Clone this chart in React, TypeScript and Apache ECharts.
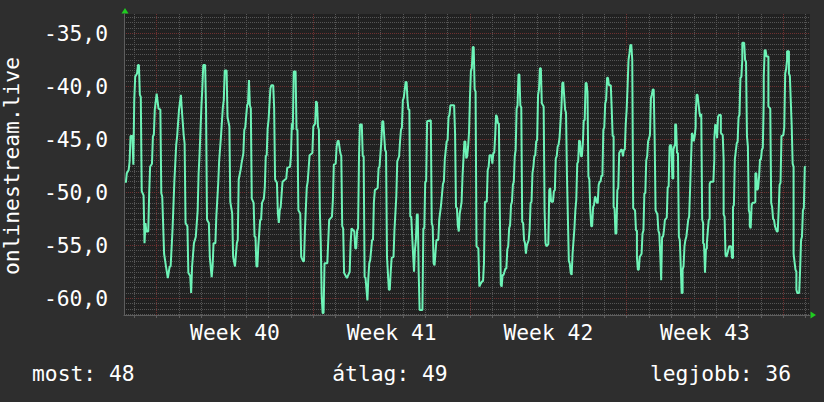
import React, { useEffect, useRef } from "react";
import * as echarts from "echarts";

// samples: [hours since Monday 00:00 of week 40, value]
const week39: [number, number][] = [
  [-33,-49.1],[-32,-48.2],[-30,-47.9],[-29,-47.1],[-28,-44.7],[-26,-44.7],[-25,-47.4],[-24,-41.3],[-23,-39.1],[-21,-38.8],[-20,-38.0],[-19,-38.0],[-18,-40.8],[-17,-41.0],[-16,-49.9],[-14,-50.3],[-13,-54.8],[-12,-52.9],[-11,-53.7],[-9,-53.7],[-8,-50.1],[-7,-47.6],[-5,-47.3],[-4,-44.7],[-3,-44.6],[-2,-42.2],
];
const week40: [number, number][] = [
  [0,-40.7],[2,-42.1],[4,-42.2],[5,-50.1],[6,-50.4],[8,-55.8],[10,-57.0],[12,-58.1],[14,-57.0],[15,-57.0],[17,-53.6],[19,-49.0],[21,-45.5],[22,-44.7],[24,-42.2],[26,-40.8],[27,-42.2],[29,-44.6],[30,-45.4],[31,-52.9],[33,-53.2],[34,-57.6],[36,-57.9],[37,-59.5],[38,-57.0],[40,-54.8],[42,-54.2],[44,-51.7],[45,-48.2],[46,-46.5],[48,-41.9],[49,-40.2],[50,-38.0],[52,-38.0],[53,-42.2],[54,-52.6],[56,-52.9],[57,-56.1],[59,-58.0],[60,-57.0],[61,-54.8],[63,-54.8],[64,-52.3],[66,-49.2],[67,-47.1],[69,-44.7],[71,-42.0],[72,-41.3],[73,-38.5],[75,-38.5],[76,-42.9],[78,-43.8],[79,-50.9],[81,-52.0],[82,-56.1],[84,-57.0],[86,-54.8],[87,-54.5],[88,-48.8],[90,-47.9],[91,-47.3],[93,-46.3],[94,-44.1],[95,-43.9],[97,-41.8],[98,-41.6],[99,-39.4],[100,-41.8],[101,-42.1],[102,-50.6],[104,-51.0],[105,-54.2],[106,-54.2],[107,-57.0],[108,-57.0],[109,-55.1],[111,-52.6],[112,-52.6],[113,-51.0],[115,-50.6],[116,-49.5],[117,-46.6],[118,-46.5],[119,-44.0],[120,-43.2],[122,-40.2],[123,-39.9],[125,-39.9],[126,-42.0],[127,-48.8],[129,-49.1],[130,-52.0],[131,-52.9],[132,-51.7],[133,-51.4],[135,-49.0],[139,-48.7],[140,-47.7],[143,-47.6],[144,-46.6],[145,-43.5],[146,-44.1],[147,-38.6],[149,-38.6],[150,-44.1],[151,-44.1],[152,-51.7],[154,-52.0],[155,-56.1],[157,-56.5],[158,-56.5],[159,-53.6],[161,-49.5],[162,-49.0],[164,-46.5],[167,-46.3],
];
const week41: [number, number][] = [
  [168,-43.8],[170,-43.5],[171,-41.4],[172,-41.6],[173,-43.8],[174,-44.1],[175,-51.7],[176,-54.8],[177,-59.8],[178,-61.4],[179,-61.4],[180,-56.7],[183,-56.7],[185,-52.6],[188,-52.3],[189,-50.7],[190,-47.4],[192,-47.3],[193,-45.7],[194,-45.2],[195,-45.1],[197,-46.3],[198,-46.6],[199,-53.2],[200,-53.4],[201,-57.6],[204,-58.1],[207,-57.5],[208,-54.8],[209,-53.4],[212,-53.7],[213,-55.3],[214,-55.3],[215,-53.6],[216,-53.4],[217,-46.6],[218,-43.6],[220,-43.6],[221,-46.6],[222,-46.6],[223,-58.0],[224,-58.1],[226,-60.2],[227,-58.1],[228,-56.7],[229,-56.4],[231,-54.5],[232,-54.5],[233,-50.9],[234,-49.8],[237,-49.6],[238,-47.7],[239,-47.6],[241,-45.1],[242,-43.3],[243,-43.3],[245,-46.0],[246,-46.2],[247,-56.1],[249,-59.2],[250,-59.2],[251,-57.5],[252,-56.2],[254,-56.1],[255,-53.6],[257,-50.4],[258,-47.1],[260,-46.6],[261,-45.2],[262,-44.1],[263,-43.9],[264,-41.3],[265,-41.1],[267,-39.6],[268,-39.6],[269,-41.3],[270,-42.2],[271,-42.2],[272,-52.3],[273,-52.3],[275,-55.9],[276,-57.5],[277,-55.4],[278,-54.5],[279,-52.1],[280,-52.1],[281,-57.6],[282,-61.1],[285,-61.1],[286,-53.4],[287,-53.4],[288,-49.0],[289,-49.0],[290,-43.3],[294,-43.2],[295,-52.9],[296,-53.2],[297,-56.7],[298,-56.9],[300,-54.5],[302,-54.5],[303,-52.6],[305,-51.2],[307,-49.2],[308,-49.0],[309,-46.9],[311,-45.2],[312,-45.1],[313,-42.9],[314,-42.7],[315,-41.8],[319,-41.8],[320,-44.4],[321,-51.4],[322,-51.5],[323,-53.2],[324,-53.7],[325,-52.0],[326,-51.5],[327,-50.9],[328,-48.5],[330,-45.2],[331,-45.2],[332,-46.8],[333,-46.6],[334,-45.7],[335,-44.3],
];
const week42: [number, number][] = [
  [336,-41.0],[337,-38.5],[338,-38.3],[339,-36.3],[340,-36.3],[341,-40.3],[342,-40.5],[343,-55.1],[345,-55.3],[346,-58.9],[347,-58.7],[349,-58.4],[350,-58.4],[351,-56.7],[352,-50.9],[354,-50.9],[355,-47.9],[356,-47.6],[357,-46.5],[359,-46.5],[360,-47.3],[361,-46.3],[362,-46.3],[363,-44.7],[364,-42.7],[365,-42.9],[366,-43.5],[367,-43.5],[368,-51.7],[369,-58.7],[370,-58.9],[371,-57.8],[372,-57.8],[374,-57.2],[375,-57.2],[376,-55.4],[377,-55.1],[378,-53.4],[379,-53.1],[380,-51.2],[381,-50.9],[382,-49.3],[383,-49.0],[384,-46.6],[385,-46.0],[386,-42.1],[387,-41.8],[388,-38.9],[389,-38.9],[390,-41.8],[391,-42.0],[392,-52.8],[393,-52.9],[394,-54.5],[395,-54.8],[396,-55.8],[397,-55.0],[399,-54.5],[400,-53.4],[401,-51.0],[402,-50.9],[403,-48.2],[404,-47.6],[405,-46.6],[406,-46.5],[407,-45.2],[408,-45.1],[409,-40.8],[410,-40.3],[411,-38.3],[412,-38.3],[413,-41.6],[415,-41.9],[416,-51.7],[417,-54.8],[418,-55.1],[420,-54.9],[421,-49.8],[422,-49.6],[423,-50.9],[425,-50.9],[426,-49.9],[427,-49.8],[428,-46.8],[429,-46.6],[430,-45.7],[431,-45.5],[432,-44.9],[433,-43.5],[434,-42.1],[435,-39.7],[436,-39.6],[438,-42.2],[439,-42.5],[440,-48.5],[441,-52.5],[442,-56.5],[443,-56.7],[444,-57.6],[445,-57.8],[446,-55.8],[448,-53.4],[449,-51.7],[450,-50.7],[451,-47.3],[452,-47.1],[453,-45.1],[454,-45.2],[455,-46.6],[456,-46.6],[457,-45.4],[458,-43.2],[459,-43.2],[460,-39.7],[461,-39.7],[462,-40.6],[463,-48.5],[464,-48.8],[465,-51.7],[466,-53.2],[467,-53.2],[468,-51.4],[469,-51.2],[470,-50.4],[471,-50.6],[472,-51.0],[473,-51.0],[474,-49.3],[475,-49.0],[476,-49.0],[477,-48.4],[478,-48.5],[479,-44.1],[480,-43.9],[481,-41.6],[482,-41.3],[483,-39.2],[484,-39.2],[485,-39.9],[487,-39.9],[488,-42.2],[489,-44.7],[490,-44.7],[490,-51.4],[491,-51.5],[492,-53.9],[493,-53.9],[494,-49.8],[495,-49.6],[496,-46.3],[498,-46.0],[499,-46.0],[500,-46.6],[501,-46.0],[502,-46.0],[503,-43.6],
];
const week43: [number, number][] = [
  [504,-42.2],[505,-40.0],[506,-37.5],[507,-36.9],[508,-36.1],[509,-36.1],[510,-37.5],[511,-51.5],[513,-51.7],[514,-53.6],[515,-53.6],[515,-56.1],[516,-57.3],[517,-57.3],[518,-56.1],[520,-55.8],[521,-53.9],[522,-53.6],[523,-50.1],[524,-50.1],[525,-47.0],[526,-46.6],[527,-45.2],[528,-44.9],[529,-44.6],[530,-41.1],[531,-40.8],[532,-40.3],[533,-40.3],[534,-44.8],[535,-51.7],[537,-52.1],[538,-53.6],[539,-53.9],[540,-55.8],[541,-58.3],[542,-54.2],[543,-54.2],[544,-53.6],[545,-52.6],[547,-52.4],[548,-49.5],[549,-49.5],[550,-45.7],[551,-45.5],[552,-45.7],[553,-48.7],[554,-48.7],[554,-46.0],[556,-45.4],[556,-43.6],[557,-43.6],[558,-46.3],[559,-46.3],[560,-54.2],[561,-54.5],[562,-57.0],[563,-59.5],[564,-59.5],[564,-57.3],[565,-57.0],[566,-55.1],[567,-54.5],[568,-54.2],[570,-52.6],[571,-52.3],[572,-49.8],[573,-47.0],[574,-44.4],[575,-44.6],[576,-45.2],[577,-44.7],[578,-43.8],[578,-42.9],[579,-40.8],[580,-40.8],[581,-41.6],[582,-42.4],[583,-42.9],[584,-42.6],[585,-52.6],[586,-52.9],[586,-54.8],[587,-54.9],[588,-57.6],[589,-55.4],[590,-55.3],[590,-54.8],[592,-52.6],[593,-52.5],[593,-49.2],[594,-49.0],[597,-49.0],[598,-46.9],[598,-44.9],[599,-43.6],[600,-43.8],[601,-44.9],[601,-44.7],[602,-42.9],[603,-42.7],[605,-42.7],[605,-44.4],[607,-44.6],[608,-46.9],[608,-52.1],[609,-52.3],[610,-55.9],[611,-56.1],[612,-55.8],[614,-55.1],[616,-55.1],[617,-56.2],[618,-56.2],[618,-51.4],[619,-51.2],[620,-46.9],[622,-45.4],[623,-45.2],[624,-42.9],[625,-42.7],[626,-39.2],[627,-39.1],[628,-37.5],[628,-35.9],[630,-35.9],[631,-37.5],[632,-37.7],[633,-44.7],[634,-45.7],[635,-51.7],[636,-52.0],[636,-53.2],[637,-53.4],[638,-51.2],[639,-51.0],[641,-51.0],[642,-50.9],[642,-48.2],[643,-48.2],[644,-49.8],[645,-49.6],[646,-48.5],[647,-46.9],[648,-46.9],[649,-46.0],[650,-45.8],[651,-41.3],[651,-39.1],[652,-36.6],[653,-36.6],[654,-37.2],[656,-37.2],[656,-41.9],[658,-42.1],[659,-51.0],[660,-51.4],[661,-52.5],[662,-52.6],[663,-53.2],[665,-53.7],[666,-53.7],[667,-51.7],[668,-49.3],[669,-49.1],[670,-44.7],[672,-44.6],[673,-43.9],[674,-38.8],[675,-38.4],[676,-37.5],[676,-36.7],[678,-36.7],[678,-38.8],[679,-39.0],[681,-43.8],[682,-47.3],[683,-47.6],[683,-55.8],[685,-57.3],[686,-57.5],[686,-59.2],[687,-59.5],[689,-59.5],[690,-57.3],[691,-54.5],[692,-54.2],[693,-51.7],[694,-51.5],[695,-47.6],[696,-47.6],
];

const weekLabels = ["Week 40", "Week 41", "Week 42", "Week 43"];
const weekLabelHours = [84, 252, 420, 588];
const yLabelValues = [-60, -55, -50, -45, -40, -35];
const legendNames = ["most", "átlag", "legjobb"];
const legendValues = [48, 49, 36];
const axisTitle = "onlinestream.live";

const X_MIN = -35;
const X_MAX = 700.6;
const Y_MIN = -61.58;
const Y_MAX = -33.18;

const FONT = "'DejaVu Sans Mono', monospace";
const FS = 21.3;
const BG = "#2e2e2e";
const PLOT_BG = "#212121";
const MINOR = "#555555";
const MAJOR = "#6e3030";
const LINE = "#6ef3b7";
const AXIS = "#5e5e5e";
const ARROW = "#20cc20";
const TEXT = "#ffffff";

export default function App() {
  const ref = useRef<HTMLDivElement>(null);
  useEffect(() => {
    if (!ref.current) return;
    const chart = echarts.init(ref.current, null, { renderer: "svg" });
    const samples = [...week39, ...week40, ...week41, ...week42, ...week43];
    const dayTicks: number[] = [];
    for (let d = -1; d <= 29; d++) dayTicks.push(d * 24);
    const yGrid: number[] = [];
    for (let v = -61.5; v <= -33.5 + 1e-9; v += 0.5) yGrid.push(Math.round(v * 10) / 10);
    // colors cycle: day -1 gray, day 0 red, then 5 gray... (period 7)
    const xColors = [MINOR, MAJOR, MINOR, MINOR, MINOR, MINOR, MINOR];
    // -61.5,-61,-60.5 gray, -60 red ... (period 10)
    const yColors = [MINOR, MINOR, MINOR, MAJOR, MINOR, MINOR, MINOR, MINOR, MINOR, MINOR];

    const gridLeft = 124, gridTop = 14, gridW = 686, gridH = 301;
    chart.setOption({
      animation: false,
      backgroundColor: BG,
      grid: {
        left: gridLeft, top: gridTop, width: gridW, height: gridH,
        show: true, backgroundColor: PLOT_BG, borderWidth: 0,
      },
      xAxis: {
        type: "value", min: X_MIN, max: X_MAX,
        axisLine: { show: true, onZero: false, lineStyle: { color: AXIS, width: 1 } },
        axisTick: { show: true, length: 3, customValues: dayTicks, lineStyle: { color: AXIS } },
        splitLine: { show: true, lineStyle: { color: xColors, width: 1, type: [1, 1] } },
        axisLabel: {
          customValues: weekLabelHours,
          formatter: (v: number) => weekLabels[weekLabelHours.indexOf(v)] ?? "",
          color: TEXT, fontFamily: FONT, fontSize: FS, margin: 17, verticalAlign: "middle",
        },
      },
      yAxis: {
        type: "value", min: Y_MIN, max: Y_MAX,
        axisLine: { show: true, onZero: false, lineStyle: { color: AXIS, width: 1 } },
        axisTick: { show: false, customValues: yGrid },
        splitLine: { show: true, lineStyle: { color: yColors, width: 1, type: [1, 1] } },
        axisLabel: {
          customValues: yLabelValues,
          formatter: (v: number) => v.toFixed(1).replace(".", ","),
          color: TEXT, fontFamily: FONT, fontSize: FS, margin: 16,
        },
      },
      series: [
        {
          type: "line",
          data: samples,
          showSymbol: false,
          symbol: "none",
          lineStyle: { color: LINE, width: 2 },
          clip: true,
        },
      ],
      graphic: [
        {
          type: "polygon",
          shape: { points: [[121.5, 13.5], [128.5, 13.5], [125, 8]] },
          style: { fill: ARROW },
        },
        {
          type: "polygon",
          shape: { points: [[810.5, 311.5], [810.5, 318.5], [816, 315]] },
          style: { fill: ARROW },
        },
        {
          type: "text", x: 11, y: 166, rotation: Math.PI / 2,
          style: { text: axisTitle, fill: TEXT, font: `${FS}px ${FONT}`, align: "center", verticalAlign: "middle" },
        },
        {
          type: "text", x: 32, y: 373,
          style: { text: `${legendNames[0]}: ${legendValues[0]}`, fill: TEXT, font: `${FS}px ${FONT}`, align: "left", verticalAlign: "middle" },
        },
        {
          type: "text", x: 390, y: 373,
          style: { text: `${legendNames[1]}: ${legendValues[1]}`, fill: TEXT, font: `${FS}px ${FONT}`, align: "center", verticalAlign: "middle" },
        },
        {
          type: "text", x: 791, y: 373,
          style: { text: `${legendNames[2]}: ${legendValues[2]}`, fill: TEXT, font: `${FS}px ${FONT}`, align: "right", verticalAlign: "middle" },
        },
      ],
    });
    return () => chart.dispose();
  }, []);
  return (
    <div
      ref={ref}
      style={{ position: "fixed", left: 0, top: 0, width: 824, height: 402 }}
    />
  );
}
